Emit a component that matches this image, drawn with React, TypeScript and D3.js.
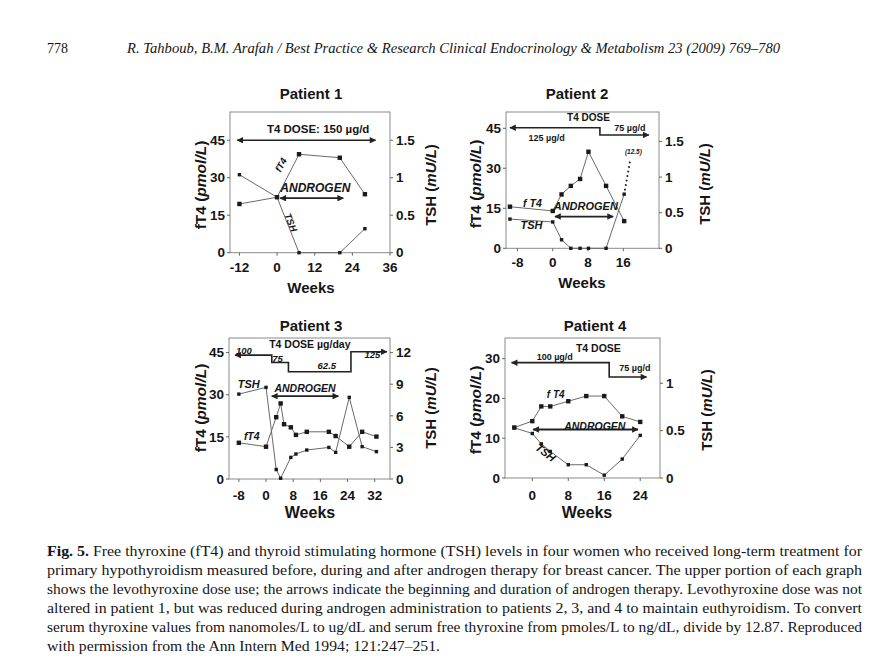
import React from "react";
import * as d3 from "d3";

// ---------------- DATA ----------------
// Patient 1
const p1Weeks = [-12, 0, 7, 20, 28];
const p1FT4 = [19.5, 22.2, 39.4, 38.0, 23.4];
const p1TSH = [1.04, 0.74, 0, 0, 0.32];
const p1DoseWeeks = [-12.7, 31.4];
const p1DoseLevels = [45, 45];
const p1AndrogenWeeks = [1, 21.1];
const p1AndrogenLevel = 21.8;

// Patient 2
const p2Weeks = [-9.7, 0, 2, 4.1, 6.2, 8.1, 12.1, 16.2];
const p2FT4 = [15.6, 14.0, 20.2, 23.4, 26.0, 36.2, 23.4, 10.2];
const p2TSH = [0.41, 0.37, 0.12, 0, 0, 0, 0, 0.76];
const p2TSHOffWeeks = [16.2, 17.6];
const p2TSHOff = [0.76, 1.25];
const p2DoseWeeks = [-9.7, 10.7, 10.7, 21.8];
const p2DoseLevels = [45.2, 45.2, 42.5, 42.5];
const p2AndrogenWeeks = [0.5, 13.7];
const p2AndrogenLevel = 11.9;

// Patient 3
const p3FT4Weeks = [-8, 0, 3, 4.3, 5.3, 7.3, 8.8, 12, 18.5, 20.5, 24.5, 28.3, 32.5];
const p3FT4 = [12.9, 11.5, 22, 26.9, 19.5, 18.4, 15.7, 16.8, 16.8, 15.3, 11.5, 16.8, 15.1];
const p3TSHWeeks = [-8, 0, 3, 4.3, 7.3, 8.8, 12, 18.5, 20.5, 24.5, 28.3, 32.5];
const p3TSH = [8.06, 8.7, 0.9, 0.07, 2.05, 2.37, 2.75, 3.0, 2.53, 7.75, 3.07, 2.6];
const p3DoseWeeks = [-9.1, 1.7, 1.7, 6.6, 6.6, 25, 25, 35.6];
const p3DoseLevels = [44.1, 44.1, 41.5, 41.5, 38.2, 38.2, 45.3, 45.3];
const p3AndrogenWeeks = [1.7, 21.3];
const p3AndrogenLevel = 29.5;

// Patient 4
const p4Weeks = [-4, 0, 2, 4, 8, 12, 16, 20, 24];
const p4FT4 = [12.7, 14.3, 18.0, 18.0, 19.3, 20.6, 20.6, 15.5, 14.1];
const p4TSH = [0.53, 0.47, 0.36, 0.28, 0.14, 0.14, 0.03, 0.2, 0.45];
const p4DoseWeeks = [-4.6, 17.1, 17.1, 25.4];
const p4DoseLevels = [29, 29, 25.4, 25.4];
const p4AndrogenWeeks = [0.2, 23.5];
const p4AndrogenLevel = 12.2;

// Ticks
const p1XTicks = [-12, 0, 12, 24, 36];
const p2XTicks = [-8, 0, 8, 16];
const p3XTicks = [-8, 0, 8, 16, 24, 32];
const p4XTicks = [0, 8, 16, 24];
const ft4Ticks45 = [0, 15, 30, 45];
const ft4Ticks30 = [0, 10, 20, 30];
const tshTicks15 = [0, 0.5, 1, 1.5];
const tshTicks12 = [0, 3, 6, 9, 12];
const tshTicks1 = [0, 0.5, 1];

// Text
const headerPage = "778";
const headerCitation =
  "R. Tahboub, B.M. Arafah / Best Practice & Research Clinical Endocrinology & Metabolism 23 (2009) 769–780";
const captionLines = [
  "Free thyroxine (fT4) and thyroid stimulating hormone (TSH) levels in four women who received long-term treatment for",
  "primary hypothyroidism measured before, during and after androgen therapy for breast cancer. The upper portion of each graph",
  "shows the levothyroxine dose use; the arrows indicate the beginning and duration of androgen therapy. Levothyroxine dose was not",
  "altered in patient 1, but was reduced during androgen administration to patients 2, 3, and 4 to maintain euthyroidism. To convert",
  "serum thyroxine values from nanomoles/L to ug/dL and serum free thyroxine from pmoles/L to ng/dL, divide by 12.87. Reproduced",
  "with permission from the Ann Intern Med 1994; 121:247–251.",
];

// ---------------- LAYOUT ----------------
type Note = { t: string; x: number; y: number; size: number; italic?: boolean; rot?: number };
type Cfg = {
  title: string;
  box: [number, number, number, number];
  xDomain: [number, number];
  yDomain: [number, number];
  rDomain: [number, number];
  xTicks: number[];
  yTicks: number[];
  rTicks: number[];
  fWeeks: number[];
  fVals: number[];
  tWeeks: number[];
  tVals: number[];
  dotWeeks?: number[];
  dotVals?: number[];
  doseWeeks: number[];
  doseLevels: number[];
  andWeeks: number[];
  andLevel: number;
  notes: Note[];
  titleY: number;
  weeksY: number;
  weeksX: number;
  titleX: number;
  tickBase: number;
  leftLabelX: number;
  rightLabelX: number;
  labelCY: number;
  weeksSize: number;
};

const panels: Cfg[] = [
  {
    title: "Patient 1",
    box: [230, 112, 390, 252.7],
    xDomain: [-15, 36],
    yDomain: [0, 56.3],
    rDomain: [0, 56.3 / 30],
    xTicks: p1XTicks,
    yTicks: ft4Ticks45,
    rTicks: tshTicks15,
    fWeeks: p1Weeks,
    fVals: p1FT4,
    tWeeks: p1Weeks,
    tVals: p1TSH,
    doseWeeks: p1DoseWeeks,
    doseLevels: p1DoseLevels,
    andWeeks: p1AndrogenWeeks,
    andLevel: p1AndrogenLevel,
    notes: [
      { t: "T4 DOSE: 150 µg/d", x: 13.1, y: 47.8, size: 11.5 },
      { t: "ANDROGEN", x: 12.2, y: 24.4, size: 12, italic: true },
      { t: "fT4", x: 2.2, y: 34.5, size: 9.5, italic: true, rot: -62 },
      { t: "TSH", x: 3.4, y: 11.6, size: 9.5, italic: true, rot: 68 },
    ],
    titleX: 311,
    titleY: 98.5,
    weeksX: 311,
    weeksY: 293,
    tickBase: 271.5,
    leftLabelX: 206,
    rightLabelX: 436,
    labelCY: 185,
    weeksSize: 15,
  },
  {
    title: "Patient 2",
    box: [506, 112, 659, 248.3],
    xDomain: [-10.6, 24.1],
    yDomain: [0, 51.1],
    rDomain: [0, 1.914],
    xTicks: p2XTicks,
    yTicks: ft4Ticks45,
    rTicks: tshTicks15,
    fWeeks: p2Weeks,
    fVals: p2FT4,
    tWeeks: p2Weeks,
    tVals: p2TSH,
    dotWeeks: p2TSHOffWeeks,
    dotVals: p2TSHOff,
    doseWeeks: p2DoseWeeks,
    doseLevels: p2DoseLevels,
    andWeeks: p2AndrogenWeeks,
    andLevel: p2AndrogenLevel,
    notes: [
      { t: "T4 DOSE", x: 8.1, y: 47.7, size: 10 },
      { t: "125 µg/d", x: -1.4, y: 40.4, size: 9 },
      { t: "75 µg/d", x: 17.5, y: 43.8, size: 9 },
      { t: "(12.5)", x: 18.3, y: 35.4, size: 6.5, italic: true },
      { t: "ANDROGEN", x: 7.5, y: 14.2, size: 11, italic: true },
      { t: "f T4", x: -4.6, y: 15.6, size: 10.5, italic: true },
      { t: "TSH", x: -4.8, y: 7.1, size: 11, italic: true },
    ],
    titleX: 577,
    titleY: 98.5,
    weeksX: 582,
    weeksY: 288,
    tickBase: 267,
    leftLabelX: 481,
    rightLabelX: 710,
    labelCY: 184,
    weeksSize: 15,
  },
  {
    title: "Patient 3",
    box: [229, 338, 390, 479],
    xDomain: [-10.9, 36.5],
    yDomain: [0, 50.2],
    rDomain: [0, 50.2 / 3.75],
    xTicks: p3XTicks,
    yTicks: ft4Ticks45,
    rTicks: tshTicks12,
    fWeeks: p3FT4Weeks,
    fVals: p3FT4,
    tWeeks: p3TSHWeeks,
    tVals: p3TSH,
    doseWeeks: p3DoseWeeks,
    doseLevels: p3DoseLevels,
    andWeeks: p3AndrogenWeeks,
    andLevel: p3AndrogenLevel,
    notes: [
      { t: "T4 DOSE µg/day", x: 12.9, y: 46.8, size: 10.5 },
      { t: "100", x: -6.5, y: 44.6, size: 9.5, italic: true },
      { t: "75", x: 3.4, y: 41.7, size: 9.5, italic: true },
      { t: "62.5", x: 17.9, y: 39.1, size: 9.5, italic: true },
      { t: "125", x: 31.3, y: 43, size: 9.5, italic: true },
      { t: "ANDROGEN", x: 11.5, y: 31, size: 10.5, italic: true },
      { t: "TSH", x: -5.1, y: 32.3, size: 11, italic: true },
      { t: "fT4", x: -4.2, y: 13.9, size: 10.5, italic: true },
    ],
    titleX: 311,
    titleY: 331,
    weeksX: 310,
    weeksY: 518,
    tickBase: 500,
    leftLabelX: 206,
    rightLabelX: 436,
    labelCY: 408,
    weeksSize: 16,
  },
  {
    title: "Patient 4",
    box: [505, 338, 660, 478],
    xDomain: [-6.07, 28.4],
    yDomain: [0, 35.2],
    rDomain: [0, 1.478],
    xTicks: p4XTicks,
    yTicks: ft4Ticks30,
    rTicks: tshTicks1,
    fWeeks: p4Weeks,
    fVals: p4FT4,
    tWeeks: p4Weeks,
    tVals: p4TSH,
    doseWeeks: p4DoseWeeks,
    doseLevels: p4DoseLevels,
    andWeeks: p4AndrogenWeeks,
    andLevel: p4AndrogenLevel,
    notes: [
      { t: "T4 DOSE", x: 14.7, y: 31.7, size: 10.5 },
      { t: "100 µg/d", x: 5.0, y: 29.6, size: 9 },
      { t: "75 µg/d", x: 22.8, y: 26.8, size: 9 },
      { t: "f T4", x: 5.2, y: 20.0, size: 10, italic: true },
      { t: "ANDROGEN", x: 13.9, y: 12.0, size: 10.5, italic: true },
      { t: "TSH", x: 2.4, y: 5.6, size: 11, italic: true, rot: 38 },
    ],
    titleX: 595,
    titleY: 331,
    weeksX: 587,
    weeksY: 518,
    tickBase: 500,
    leftLabelX: 481,
    rightLabelX: 712,
    labelCY: 410,
    weeksSize: 16,
  },
];

const SANS = "'Liberation Sans', Arial, Helvetica, sans-serif";
const SERIF = "'Liberation Serif', 'Times New Roman', serif";
const INK = "#151515";

function Panel({ c }: { c: Cfg }) {
  const [l, t, r, b] = c.box;
  const x = d3.scaleLinear().domain(c.xDomain).range([l, r]);
  const y = d3.scaleLinear().domain(c.yDomain).range([b, t]);
  const yr = d3.scaleLinear().domain(c.rDomain).range([b, t]);
  const line = d3.line<[number, number]>();
  const fPts: [number, number][] = c.fWeeks.map((w, i) => [x(w), y(c.fVals[i])]);
  const tPts: [number, number][] = c.tWeeks.map((w, i) => [x(w), yr(c.tVals[i])]);
  const dose: [number, number][] = c.doseWeeks.map((w, i) => [x(w), y(c.doseLevels[i])]);
  const andr: [number, number][] = c.andWeeks.map((w) => [x(w), y(c.andLevel)]);
  const dotPts: [number, number][] | null = c.dotWeeks
    ? c.dotWeeks.map((w, i) => [x(w), yr(c.dotVals![i])])
    : null;
  const fmt = (v: number) => String(v);
  const tickStroke = "#666";
  const TS = 13.5;
  return (
    <g>
      <text x={c.titleX} y={c.titleY} textAnchor="middle" fontFamily={SANS} fontWeight="bold" fontSize={15} fill={INK}>
        {c.title}
      </text>
      <rect x={l} y={t} width={r - l} height={b - t} fill="none" stroke="#8a8a8a" strokeWidth={1} />
      {c.yTicks.map((v) => (
        <g key={"yl" + v}>
          <line x1={l - 3} x2={l} y1={y(v)} y2={y(v)} stroke={tickStroke} />
          <text x={l - 5} y={y(v) + 4.7} textAnchor="end" fontFamily={SANS} fontWeight="bold" fontSize={TS} fill={INK}>
            {fmt(v)}
          </text>
        </g>
      ))}
      {c.rTicks.map((v) => (
        <g key={"yr" + v}>
          <line x1={r} x2={r + 3} y1={yr(v)} y2={yr(v)} stroke={tickStroke} />
          <text x={r + 6} y={yr(v) + 4.7} textAnchor="start" fontFamily={SANS} fontWeight="bold" fontSize={TS} fill={INK}>
            {fmt(v)}
          </text>
        </g>
      ))}
      {c.xTicks.map((v) => (
        <g key={"x" + v}>
          <line x1={x(v)} x2={x(v)} y1={b} y2={b + 3} stroke={tickStroke} />
          <text x={x(v)} y={c.tickBase} textAnchor="middle" fontFamily={SANS} fontWeight="bold" fontSize={TS} fill={INK}>
            {v < 0 ? "-" + Math.abs(v) : v}
          </text>
        </g>
      ))}
      <text x={c.weeksX} y={c.weeksY} textAnchor="middle" fontFamily={SANS} fontWeight="bold" fontSize={c.weeksSize} fill={INK}>
        Weeks
      </text>
      <text
        x={c.leftLabelX}
        y={c.labelCY}
        transform={`rotate(-90, ${c.leftLabelX}, ${c.labelCY})`}
        textAnchor="middle"
        fontFamily={SANS}
        fontWeight="bold"
        fontSize={15.5}
        fill={INK}
      >
        fT4 (<tspan fontStyle="italic">pmol/L</tspan>)
      </text>
      <text
        x={c.rightLabelX}
        y={c.labelCY}
        transform={`rotate(-90, ${c.rightLabelX}, ${c.labelCY})`}
        textAnchor="middle"
        fontFamily={SANS}
        fontWeight="bold"
        fontSize={15}
        fill={INK}
      >
        TSH (<tspan fontStyle="italic">mU/L</tspan>)
      </text>
      <path d={line(dose) || ""} fill="none" stroke="#222" strokeWidth={1.6} markerStart="url(#ah)" markerEnd="url(#ah)" />
      <path d={line(andr) || ""} fill="none" stroke="#222" strokeWidth={1.8} markerStart="url(#ah)" markerEnd="url(#ah)" />
      <path d={line(fPts) || ""} fill="none" stroke="#6a6a6a" strokeWidth={1} />
      <path d={line(tPts) || ""} fill="none" stroke="#6a6a6a" strokeWidth={1} />
      {dotPts && (
        <path d={line(dotPts) || ""} fill="none" stroke="#222" strokeWidth={2} strokeDasharray="0.1 4.5" strokeLinecap="round" />
      )}
      {fPts.map((p, i) => (
        <rect key={"f" + i} x={p[0] - 2.2} y={p[1] - 2.2} width={4.4} height={4.4} fill="#1a1a1a" />
      ))}
      {tPts.map((p, i) => (
        <rect key={"t" + i} x={p[0] - 1.7} y={p[1] - 1.7} width={3.4} height={3.4} fill="#1a1a1a" />
      ))}
      {c.notes.map((n, i) => {
        const px = x(n.x);
        const py = y(n.y);
        return (
          <text
            key={"n" + i}
            x={px}
            y={py}
            textAnchor="middle"
            transform={n.rot ? `rotate(${n.rot}, ${px}, ${py})` : undefined}
            fontFamily={SANS}
            fontWeight="bold"
            fontStyle={n.italic ? "italic" : "normal"}
            fontSize={n.size}
            fill={INK}
          >
            {n.t}
          </text>
        );
      })}
    </g>
  );
}

const captionWidths = [815, 815, 815, 815, 815, 393];
const captionBaselines = [556, 575, 594, 613, 632, 650.5];

export default function App() {
  return (
    <svg
      width={892}
      height={658}
      viewBox="0 0 892 658"
      style={{ position: "absolute", left: 0, top: 0, background: "#fff" }}
    >
      <defs>
        <marker
          id="ah"
          viewBox="0 0 10 10"
          refX={9}
          refY={5}
          markerWidth={7.5}
          markerHeight={6.5}
          markerUnits="userSpaceOnUse"
          orient="auto-start-reverse"
        >
          <path d="M0,0 L10,5 L0,10 z" fill="#222" />
        </marker>
      </defs>
      <rect x={0} y={0} width={892} height={658} fill="#fff" />
      <text x={47} y={53} fontFamily={SERIF} fontSize={14} fill={INK} textLength={21} lengthAdjust="spacingAndGlyphs">
        {headerPage}
      </text>
      <text
        x={127}
        y={53}
        fontFamily={SERIF}
        fontStyle="italic"
        fontSize={14.5}
        fill={INK}
        textLength={653}
        lengthAdjust="spacingAndGlyphs"
      >
        {headerCitation}
      </text>
      {panels.map((c, i) => (
        <Panel key={i} c={c} />
      ))}
      {captionLines.map((s, i) => (
        <text
          key={"cap" + i}
          x={47}
          y={captionBaselines[i]}
          fontFamily={SERIF}
          fontSize={14.5}
          fill={INK}
          textLength={captionWidths[i]}
          lengthAdjust="spacingAndGlyphs"
        >
          {i === 0 && <tspan fontWeight="bold">Fig. 5. </tspan>}
          {s}
        </text>
      ))}
    </svg>
  );
}
